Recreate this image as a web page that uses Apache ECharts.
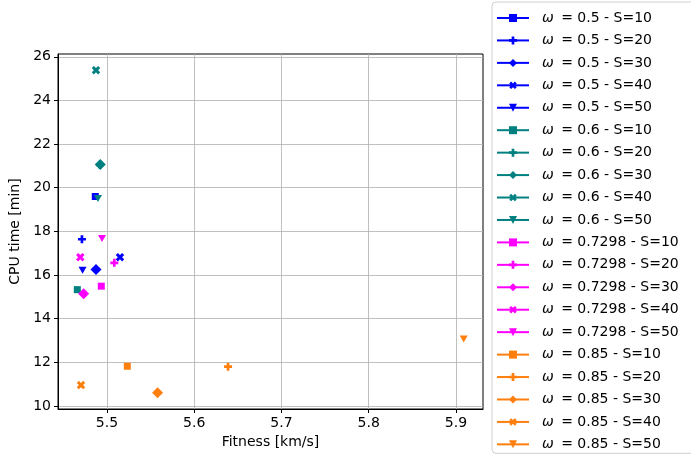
<!DOCTYPE html>
<html>
<head>
<meta charset="utf-8">
<script src="https://cdn.jsdelivr.net/npm/echarts@6/dist/echarts.min.js"></script>
<style>
  html, body { margin: 0; padding: 0; background: #fff; }
  #chart { width: 691px; height: 459px; }
</style>
</head>
<body>
<div id="chart"></div>
<script>
// Inertia weights and swarm sizes tested
const omegas = ['0.5', '0.6', '0.7298', '0.85'];
const swarmSizes = [10, 20, 30, 40, 50];

// Fitness [km/s] per swarm size (S=10..50), one array per inertia weight
const fitness05 = [5.4866, 5.4713, 5.4874, 5.5149, 5.4720];
const fitness06 = [5.4660, 5.4920, 5.4923, 5.4874, 5.4897];
const fitness07298 = [5.4935, 5.5084, 5.4732, 5.4694, 5.4943];
const fitness085 = [5.5233, 5.6388, 5.5580, 5.4702, 5.9089];

// CPU time [min] per swarm size (S=10..50)
const cpu05 = [19.60, 17.64, 16.25, 16.82, 16.22];
const cpu06 = [15.33, 21.05, 21.07, 25.39, 19.51];
const cpu07298 = [15.49, 16.56, 15.14, 16.82, 17.67];
const cpu085 = [11.82, 11.80, 10.60, 10.96, 13.07];

// Tick labels
const xTicks = [5.5, 5.6, 5.7, 5.8, 5.9];
const yTicks = [10, 12, 14, 16, 18, 20, 22, 24, 26];

const fitnessByOmega = [fitness05, fitness06, fitness07298, fitness085];
const cpuByOmega = [cpu05, cpu06, cpu07298, cpu085];
const colors = ['#0000ff', '#008080', '#ff00ff', '#ff7f0e'];

// marker per swarm size: square, filled plus, diamond, filled x, down triangle
const PLUS = 'path://M2,0H4V2H6V4H4V6H2V4H0V2H2Z';
const markers = [
  { symbol: 'rect', size: 7, rotate: 0 },
  { symbol: PLUS, size: 8, rotate: 0 },
  { symbol: 'diamond', size: 11, rotate: 0 },
  { symbol: PLUS, size: 9, rotate: 45 },
  { symbol: 'triangle', size: [8, 7], rotate: 180 }
];

// axis limits with a 5% margin around the data
function limits(arrs) {
  const all = [].concat(...arrs);
  const lo = Math.min(...all), hi = Math.max(...all);
  const m = (hi - lo) * 0.05;
  return [lo - m, hi + m];
}
const [xMin, xMax] = limits(fitnessByOmega);
const [yMin, yMax] = limits(cpuByOmega);

const series = [];
omegas.forEach((w, i) => {
  swarmSizes.forEach((s, j) => {
    const mk = markers[j];
    series.push({
      name: 'ω = ' + w + ' - S=' + s,
      type: 'line',
      data: [[fitnessByOmega[i][j], cpuByOmega[i][j]]],
      symbol: mk.symbol,
      symbolSize: mk.size,
      symbolRotate: mk.rotate,
      showSymbol: true,
      color: colors[i],
      itemStyle: { color: colors[i], opacity: 1 },
      lineStyle: { color: colors[i], width: 1.5 },
      emphasis: { disabled: true },
      animation: false
    });
  });
});

const font = 'DejaVu Sans';
const chart = echarts.init(document.getElementById('chart'), null, { renderer: 'canvas' });
chart.setOption({
  backgroundColor: '#ffffff',
  animation: false,
  textStyle: { fontFamily: font },
  grid: {
    left: 58, right: 208, top: 54, bottom: 50,
    show: true, borderColor: '#000', borderWidth: 1, backgroundColor: 'transparent'
  },
  xAxis: {
    type: 'value',
    min: xMin, max: xMax,
    name: 'Fitness [km/s]',
    nameLocation: 'middle',
    nameGap: 26,
    nameTextStyle: { fontFamily: font, fontSize: 14, color: '#000' },
    axisLine: { show: true, onZero: false, lineStyle: { color: '#000', width: 1 } },
    axisTick: { show: true, length: 4, customValues: xTicks, lineStyle: { color: '#000' } },
    axisLabel: { customValues: xTicks, fontFamily: font, fontSize: 14, color: '#000', margin: 7,
      formatter: v => v.toFixed(1) },
    splitLine: { show: true, lineStyle: { color: '#b0b0b0', width: 0.8 } }
  },
  yAxis: {
    type: 'value',
    min: yMin, max: yMax,
    name: 'CPU time [min]',
    nameLocation: 'middle',
    nameRotate: 90,
    nameGap: 31,
    nameTextStyle: { fontFamily: font, fontSize: 14, color: '#000' },
    axisLine: { show: true, onZero: false, lineStyle: { color: '#000', width: 1 } },
    axisTick: { show: true, length: 4, customValues: yTicks, lineStyle: { color: '#000' } },
    axisLabel: { customValues: yTicks, fontFamily: font, fontSize: 14, color: '#000', margin: 7 },
    splitLine: { show: true, lineStyle: { color: '#b0b0b0', width: 0.8 } }
  },
  legend: {
    orient: 'vertical',
    left: 492, top: 2, bottom: 0,
    padding: [9, 20, 2, 4],
    itemWidth: 32, itemHeight: 10,
    itemGap: 8.44,
    backgroundColor: '#fff',
    borderColor: '#d0d0d0', borderWidth: 1, borderRadius: 4,
    selectedMode: false,
    textStyle: { fontFamily: font, fontSize: 14, lineHeight: 14, color: '#000', padding: [0, 0, 0, 8],
      rich: { w: { fontFamily: font, fontStyle: 'italic', fontSize: 14, lineHeight: 14, padding: [0, 3, 0, 0] } } },
    formatter: n => n.replace('ω', '{w|ω}'),
    data: series.map(s => s.name)
  },
  series: series
});
</script>
</body>
</html>
